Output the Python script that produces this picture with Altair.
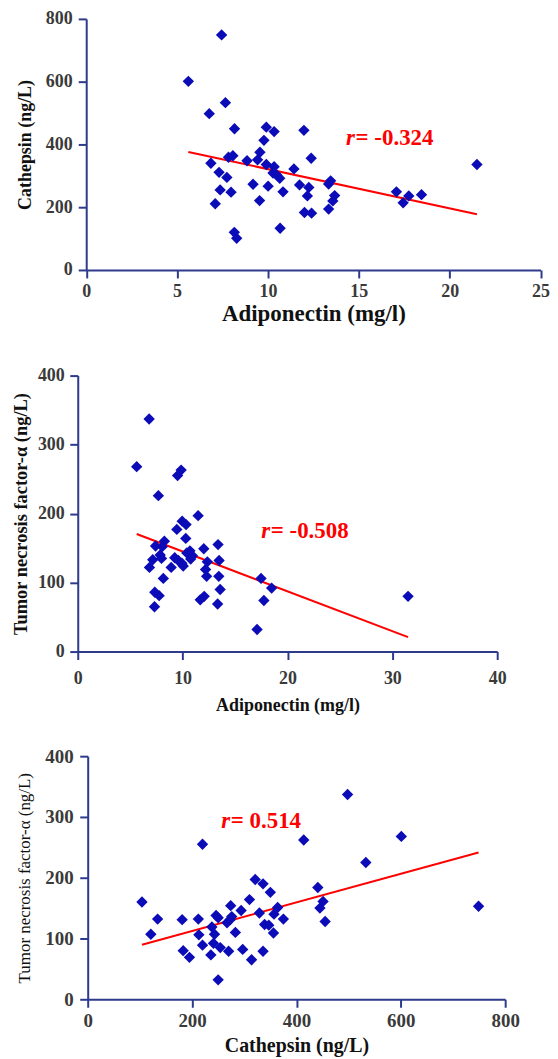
import altair as alt
import pandas as pd

# ---------------- data ----------------
# Panel 1: Adiponectin (mg/l) vs Cathepsin (ng/L)
adipo_1 = [5.62, 7.45, 6.77, 7.66, 8.16, 6.86, 7.31, 7.74, 7.37, 7.10,
           7.97, 7.83, 8.07, 8.15, 8.28, 8.85, 9.18, 9.43, 9.56, 9.54,
           9.78, 9.91, 10.34, 9.91, 10.01, 10.34, 10.28, 10.50, 10.65, 10.83,
           10.67, 11.43, 11.74, 11.98, 12.01, 12.25, 12.17, 12.38, 12.40, 13.34,
           13.34, 13.45, 13.57, 13.67, 17.07, 17.44, 17.75, 18.45, 21.50]
cathepsin_1 = [601, 749, 498, 533, 450, 340, 311, 295, 255, 211,
               248, 359, 364, 120, 101, 348, 273, 351, 375, 221,
               413, 455, 441, 336, 267, 329, 309, 302, 292, 249,
               133, 322, 271, 445, 183, 263, 236, 356, 181, 194,
               274, 284, 220, 237, 249, 214, 236, 240, 336]

# Panel 2: Adiponectin (mg/l) vs TNF-alpha (ng/L)
adipo_2 = [5.62, 6.81, 7.69, 6.84, 7.15, 7.42, 7.35, 7.76, 7.32, 7.86,
           7.99, 8.26, 8.16, 8.06, 8.91, 9.25, 9.45, 9.52, 9.86, 9.59,
           9.93, 10.06, 9.96, 10.33, 10.30, 10.40, 10.70, 10.77, 10.94, 11.48,
           12.02, 11.68, 12.06, 12.19, 12.36, 12.29, 13.38, 13.48, 13.45, 13.58,
           13.34, 17.48, 17.10, 17.75, 18.49, 31.50]
tnf_2 = [268, 337, 226, 122, 133, 153, 86, 81, 65, 140,
         135, 160, 106, 152, 122, 136, 177, 255, 263, 132,
         128, 124, 189, 184, 164, 143, 146, 134, 139, 197,
         149, 75, 80, 119, 130, 109, 155, 132, 109, 90,
         69, 106, 32, 74, 92, 80]

# Panel 3: Cathepsin (ng/L) vs TNF-alpha (ng/L)
cathepsin_3 = [104, 121, 134, 181, 183, 195, 212, 213, 220, 220,
               236, 238, 243, 241, 246, 250, 250, 254, 267, 270,
               274, 273, 276, 283, 294, 297, 310, 314, 321, 329,
               336, 336, 339, 347, 350, 356, 357, 364, 375, 414,
               441, 445, 451, 455, 498, 533, 601, 749]
tnf_3 = [160, 107, 132, 131, 80, 69, 132, 106, 89, 255,
         73, 119, 107, 92, 138, 134, 32, 85, 126, 79,
         154, 131, 136, 110, 146, 82, 164, 65, 197, 142,
         190, 79, 123, 122, 176, 109, 140, 151, 132, 262,
         184, 150, 161, 128, 337, 225, 268, 153]

# correlation annotations (text, anchor in data units)
r_texts = ["= -0.324", "= -0.508", "= 0.514"]
r_x = [14.3, 17.5, 256]
r_y = [422, 175, 293]

# axis ticks
ticks_x1 = [0, 5, 10, 15, 20, 25]
ticks_y1 = [0, 200, 400, 600, 800]
ticks_x2 = [0, 10, 20, 30, 40]
ticks_y2 = [0, 100, 200, 300, 400]
ticks_x3 = [0, 200, 400, 600, 800]
ticks_y3 = [0, 100, 200, 300, 400]

# ---------------- styling ----------------
FONT = "Liberation Serif"
POINT_COLOR = "#0b0bb8"
AXIS_COLOR = "#2e3a8c"
LABEL_COLOR = "#3a3a3a"
LINE_COLOR = "#ff0000"


def make_axis(values, title, label_size, title_size, label_pad, title_pad,
              title_weight="bold", offset=0):
    return alt.Axis(
        values=values, title=title, grid=False, offset=offset,
        domainColor=AXIS_COLOR, domainWidth=2,
        tickColor=AXIS_COLOR, tickWidth=2, tickSize=8,
        labelFont=FONT, labelFontWeight="bold", labelFontSize=label_size,
        labelColor=LABEL_COLOR, labelPadding=label_pad, labelFlush=False,
        labelOverlap=False,
        titleFont=FONT, titleFontWeight=title_weight, titleFontSize=title_size,
        titleColor="#111111", titlePadding=title_pad,
    )


def panel(xs, ys, xf, yf, xdom, ydom, xticks, yticks, xtitle, ytitle,
          w, h, lab, xts, yts, xlp, xtp, ylp, ytp, ann_i, ytw="bold", shift=0):
    # `shift` moves this panel's plot area right inside its cell, so the
    # three panels can start at slightly different left edges.
    df = pd.DataFrame({xf: xs, yf: ys})
    xenc = alt.X(f"{xf}:Q",
                 scale=alt.Scale(domain=xdom, nice=False, zero=True,
                                 range=[shift, shift + w]),
                 axis=make_axis(xticks, xtitle, lab, xts, xlp, xtp))
    yenc = alt.Y(f"{yf}:Q", scale=alt.Scale(domain=ydom, nice=False, zero=True),
                 axis=make_axis(yticks, ytitle, lab, yts, ylp, ytp, ytw,
                                offset=-shift))
    pts = alt.Chart(df).mark_point(
        shape="diamond", filled=True, size=130, color=POINT_COLOR, opacity=1
    ).encode(x=xenc, y=yenc)
    reg = alt.Chart(df).transform_regression(xf, yf).mark_line(
        color=LINE_COLOR, strokeWidth=2
    ).encode(x=xenc, y=yenc)
    adf = pd.DataFrame({xf: [r_x[ann_i]], yf: [r_y[ann_i]],
                        "t": [r_texts[ann_i]], "r": ["r"]})
    ann_r = alt.Chart(adf).mark_text(
        font=FONT, fontSize=23, fontWeight="bold", fontStyle="italic",
        color=LINE_COLOR, align="left", baseline="middle"
    ).encode(x=xenc, y=yenc, text="r:N")
    ann_t = alt.Chart(adf).mark_text(
        font=FONT, fontSize=23, fontWeight="bold",
        color=LINE_COLOR, align="left", baseline="middle", dx=9.5
    ).encode(x=xenc, y=yenc, text="t:N")
    return alt.layer(reg, pts, ann_r, ann_t).properties(width=w + shift, height=h)


p1 = panel(adipo_1, cathepsin_1, "Adiponectin", "Cathepsin", [0, 25], [0, 800],
           ticks_x1, ticks_y1, "Adiponectin (mg/l)", "Cathepsin (ng/L)",
           456, 252, 18, 23, 18, 4.9, 2, 6, 11, 0, shift=8.5)
p2 = panel(adipo_2, tnf_2, "Adiponectin", "TNF", [0, 40], [0, 400],
           ticks_x2, ticks_y2, "Adiponectin (mg/l)", "Tumor necrosis factor-α  (ng/L)",
           421, 277, 18, 18, 18.5, 10.5, 8.5, 5.5, 6.5, 1, shift=0)
p3 = panel(cathepsin_3, tnf_3, "Cathepsin", "TNF", [0, 800], [0, 400],
           ticks_x3, ticks_y3, "Cathepsin (ng/L)", "Tumor necrosis factor-α  (ng/L)",
           419, 244, 19, 20, 17, 4.5, 5, 6.5, 11.5, 2, ytw="normal", shift=10)

upper = alt.vconcat(p1, p2, spacing=41)
chart = alt.vconcat(upper, p3, spacing=33).properties(
    padding={"left": 3, "top": 0, "right": 0, "bottom": 0}
).configure_view(stroke=None)

chart.save("out.html", embed_options={"renderer": "svg", "actions": False})
